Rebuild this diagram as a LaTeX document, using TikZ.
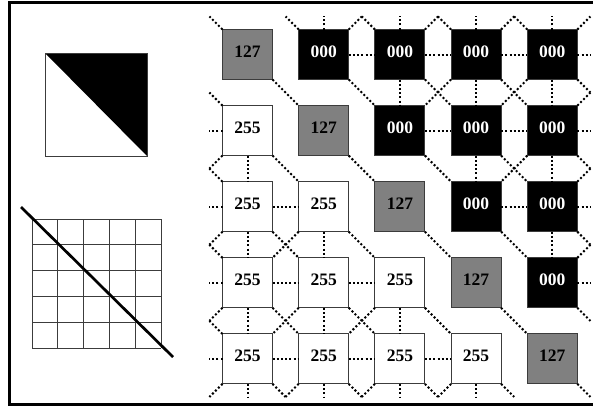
\documentclass[tikz,border=0pt]{standalone}
\usepackage{fontspec}
\setmainfont{Liberation Serif}
\usetikzlibrary{calc}
\definecolor{boxgray}{HTML}{3C3C3C}
\definecolor{midgray}{HTML}{808080}
\begin{document}
\begin{tikzpicture}[x=1pt,y=-1pt,
  pix/.style={draw=boxgray, line width=1pt, minimum size=50pt, inner sep=0pt, outer sep=0pt,
    font=\fontsize{17.5}{19}\selectfont\bfseries},
  link/.style={line width=2pt, dash pattern=on 2pt off 2.2pt, black},
  frame/.style={line width=2.6pt, black},
  thin/.style={draw=boxgray, line width=1pt}]
\useasboundingbox (0,0) rectangle (593,410);
\clip (0,0) rectangle (593,410);
% outer frame (right side lies outside the picture)
\draw[frame] (9.7,2.3) rectangle (610,404.7);
% left panel: half-black square
\fill[black] (45,53) -- (147,53) -- (147,156) -- cycle;
\draw[thin] (45,53) rectangle (147,156);
% left panel: grid with thick diagonal
\foreach \i in {0,...,5}{
  \draw[thin] ({32+\i*25.8},219) -- ({32+\i*25.8},348);
  \draw[thin] (32,{219+\i*25.8}) -- (161,{219+\i*25.8});
}
\draw[black, line width=2.7pt] (21,207) -- (173,357);
% pixel nodes
\foreach \r in {1,...,5}{
  \foreach \c in {1,...,5}{
    \pgfmathtruncatemacro\s{sign(\c-\r)}
    \ifnum\s<0 \def\val{255}\def\fillc{white}\def\textc{black}\fi
    \ifnum\s=0 \def\val{127}\def\fillc{midgray}\def\textc{black}\fi
    \ifnum\s>0 \def\val{000}\def\fillc{black}\def\textc{white}\fi
    \node[pix, fill=\fillc, text=\textc] (p-\r-\c) at ({247.5+(\c-1)*76.2},{54.5+(\r-1)*76.1}) {\raisebox{6pt}{\val}};
  }
}
% dotted links between equal 8-neighbours; stubs to half-way for outside neighbours
\foreach \r in {1,...,5}{
  \foreach \c in {1,...,5}{
    \foreach \dr/\dc in {0/1,1/-1,1/0,1/1,0/-1,-1/-1,-1/0,-1/1}{
      \pgfmathtruncatemacro\rr{\r+\dr}
      \pgfmathtruncatemacro\cc{\c+\dc}
      \pgfmathtruncatemacro\same{sign(\c-\r)==sign(\cc-\rr)}
      \pgfmathtruncatemacro\inside{(\rr>0)&&(\rr<6)&&(\cc>0)&&(\cc<6)}
      \pgfmathtruncatemacro\fwd{(\dr>0)||((\dr==0)&&(\dc>0))}
      \ifnum\same=1
        \ifnum\inside=1
          \ifnum\fwd=1 \draw[link] (p-\r-\c) -- (p-\rr-\cc); \fi
        \else
          \coordinate (m-\r-\c-\rr-\cc) at ($(p-\r-\c.center)+(\dc*38.1,\dr*38.05)$);
          \draw[link] (p-\r-\c) -- (m-\r-\c-\rr-\cc);
        \fi
      \fi
    }
  }
}
\end{tikzpicture}
\end{document}
